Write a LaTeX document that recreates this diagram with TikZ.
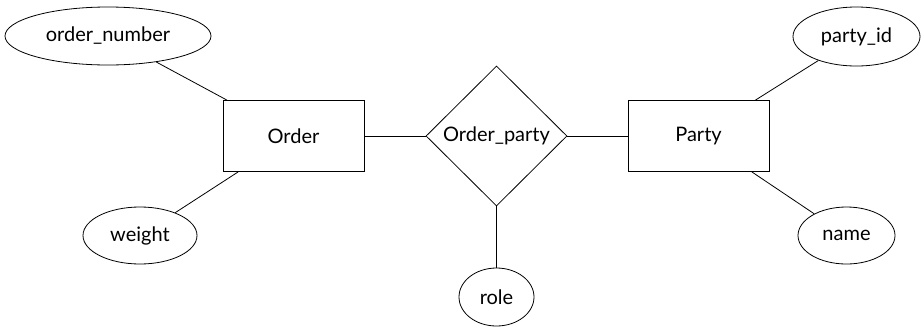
\documentclass[tikz,border=0pt]{standalone}
\usepackage{fontspec}
\setmainfont{Lato}
\usetikzlibrary{shapes.geometric}
\begin{document}
\begin{tikzpicture}[x=1pt,y=-1pt,line width=0.8pt,
    every node/.style={font=\fontsize{20}{24}\selectfont},
    entity/.style={draw,rectangle,minimum width=141pt,minimum height=71pt,inner sep=0pt},
    attr/.style={draw,ellipse,inner sep=0pt},
    rel/.style={draw,diamond,minimum width=141pt,minimum height=140pt,inner sep=0pt}]
    \useasboundingbox(0,0)rectangle(921,327);
    % entities and the relationship
    \node[entity](order)at(293.5,136){Order};
    \node[entity](party)at(698.5,136){Party};
    \node[rel](orderparty)at(496.5,136){Order\_party};
    % attributes
    \node[attr,minimum width=206pt,minimum height=58pt](ordernumber)at(108,36){order\_number};
    \node[attr,minimum width=114pt,minimum height=57pt](weight)at(140,235.5){weight};
    \node[attr,minimum width=75pt,minimum height=58pt](role)at(496.5,297){role};
    \node[attr,minimum width=127pt,minimum height=59pt](partyid)at(856.5,36.5){party\_id};
    \node[attr,minimum width=97pt,minimum height=57pt](name)at(846.5,235.5){name};
    % connectors
    \draw(ordernumber)--(order);
    \draw(weight)--(order);
    \draw(order)--(orderparty);
    \draw(orderparty)--(party);
    \draw(orderparty)--(role);
    \draw(partyid)--(party);
    \draw(name)--(party);
\end{tikzpicture}
\end{document}
